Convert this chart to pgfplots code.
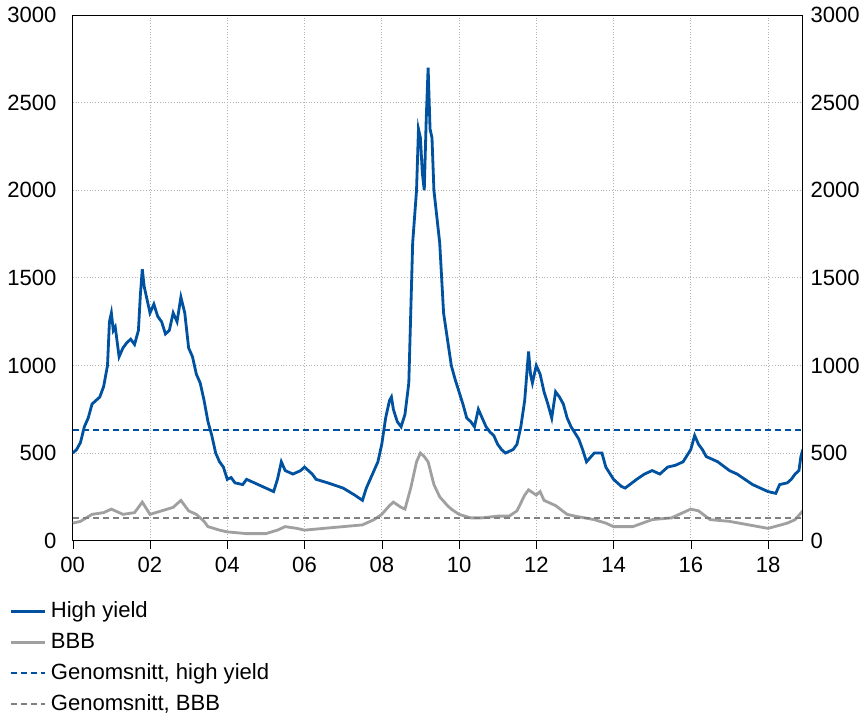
\documentclass[border=0pt]{standalone}
\usepackage{pgfplots}
\pgfplotsset{compat=1.18}
\usepackage{fontspec}
\setmainfont{Liberation Sans}
\definecolor{hy}{RGB}{0,82,160}
\definecolor{bbb}{RGB}{160,160,160}
\begin{document}
\fontsize{11}{13}\selectfont
\begin{tikzpicture}
\begin{axis}[
  scale only axis, width=364pt, height=262pt,
  xmin=0, xmax=18.9, ymin=0, ymax=3000,
  xtick={0,2,...,18}, xticklabels={00,02,04,06,08,10,12,14,16,18},
  ytick={0,500,...,3000},
  /pgf/number format/assume math mode=true,
  scaled y ticks=false, yticklabel style={/pgf/number format/1000 sep={}},
  ymajorgrids, xmajorgrids, grid style={densely dotted, gray!60},
  axis line style={black}, tick style={black},
  xtick pos=bottom, tick align=outside, ytick style={draw=none},
  axis y line*=left,
  legend style={at={(-0.095,-0.1)}, anchor=north west, draw=none, fill=none, row sep=2pt, font=\fontsize{11}{13}\selectfont},
  legend cell align=left,
]
\addplot[hy, line width=1.4pt] coordinates {
(0.0,500)(0.1,520)(0.2,560)(0.3,650)(0.4,700)(0.5,780)(0.7,820)(0.8,880)(0.9,1000)(0.95,1250)(1.0,1300)(1.05,1200)(1.1,1220)(1.2,1050)(1.3,1100)(1.4,1130)(1.5,1150)(1.6,1120)(1.7,1200)(1.75,1400)(1.8,1550)(1.85,1450)(1.9,1400)(2.0,1300)(2.1,1350)(2.2,1280)(2.3,1250)(2.4,1180)(2.5,1200)(2.6,1300)(2.7,1250)(2.8,1390)(2.9,1300)(3.0,1100)(3.1,1050)(3.2,950)(3.3,900)(3.4,800)(3.5,680)(3.6,600)(3.7,500)(3.8,450)(3.9,420)(4.0,350)(4.1,360)(4.2,330)(4.4,320)(4.5,350)(4.7,330)(5.0,300)(5.2,280)(5.3,350)(5.4,450)(5.5,400)(5.7,380)(5.9,400)(6.0,420)(6.2,380)(6.3,350)(6.6,330)(7.0,300)(7.3,260)(7.5,230)(7.6,300)(7.7,350)(7.9,450)(8.0,550)(8.1,700)(8.2,800)(8.25,820)(8.3,750)(8.4,680)(8.5,650)(8.6,720)(8.7,900)(8.75,1300)(8.8,1700)(8.85,1850)(8.9,2000)(8.95,2350)(9.0,2300)(9.05,2100)(9.1,2000)(9.15,2400)(9.2,2700)(9.25,2350)(9.3,2300)(9.35,2000)(9.4,1900)(9.5,1700)(9.6,1300)(9.7,1150)(9.8,1000)(9.9,920)(10.0,850)(10.1,780)(10.2,700)(10.3,680)(10.4,650)(10.5,750)(10.6,700)(10.7,650)(10.8,620)(10.9,600)(11.0,550)(11.1,520)(11.2,500)(11.4,520)(11.5,550)(11.6,650)(11.7,800)(11.8,1080)(11.85,950)(11.9,900)(12.0,1000)(12.1,950)(12.2,850)(12.3,780)(12.4,700)(12.5,850)(12.6,820)(12.7,780)(12.8,700)(12.9,650)(13.1,580)(13.2,520)(13.3,450)(13.5,500)(13.7,500)(13.8,420)(14.0,350)(14.2,310)(14.3,300)(14.6,350)(14.8,380)(15.0,400)(15.2,380)(15.4,420)(15.6,430)(15.8,450)(16.0,520)(16.1,600)(16.2,550)(16.3,520)(16.4,480)(16.7,450)(17.0,400)(17.2,380)(17.4,350)(17.6,320)(17.8,300)(18.0,280)(18.2,270)(18.3,320)(18.5,330)(18.6,350)(18.7,380)(18.8,400)(18.85,480)(18.9,520)
};
\addlegendentry{High yield}
\addplot[bbb, line width=1.4pt] coordinates {
(0.0,100)(0.2,110)(0.5,150)(0.8,160)(1.0,180)(1.3,150)(1.6,160)(1.8,220)(2.0,150)(2.3,170)(2.6,190)(2.8,230)(3.0,170)(3.2,150)(3.4,110)(3.5,80)(3.8,60)(4.0,50)(4.5,40)(5.0,40)(5.3,60)(5.5,80)(5.8,70)(6.0,60)(6.5,70)(7.0,80)(7.5,90)(7.8,120)(8.0,150)(8.2,200)(8.3,220)(8.5,190)(8.6,180)(8.75,300)(8.9,450)(9.0,500)(9.1,480)(9.2,450)(9.35,320)(9.5,250)(9.7,200)(9.8,180)(10.0,150)(10.3,130)(10.6,130)(11.0,140)(11.3,140)(11.5,170)(11.7,260)(11.8,290)(12.0,260)(12.1,280)(12.2,230)(12.5,200)(12.8,150)(13.0,140)(13.5,120)(13.8,100)(14.0,80)(14.5,80)(15.0,120)(15.5,130)(16.0,180)(16.2,170)(16.5,120)(17.0,110)(17.5,90)(18.0,70)(18.5,100)(18.7,120)(18.9,170)
};
\addlegendentry{BBB}
\addplot[hy, densely dashed, line width=1pt] coordinates {(0,630)(18.9,630)};
\addlegendentry{Genomsnitt, high yield}
\addplot[bbb!80!black, densely dashed, line width=1pt] coordinates {(0,130)(18.9,130)};
\addlegendentry{Genomsnitt, BBB}
\end{axis}
\begin{axis}[
  scale only axis, width=364pt, height=262pt,
  xmin=0, xmax=18.9, ymin=0, ymax=3000,
  axis y line*=right, axis x line=none,
  ytick={0,500,...,3000}, ytick style={draw=none},
  /pgf/number format/assume math mode=true,
  scaled y ticks=false, yticklabel style={/pgf/number format/1000 sep={}},
]
\end{axis}
\end{tikzpicture}
\end{document}
